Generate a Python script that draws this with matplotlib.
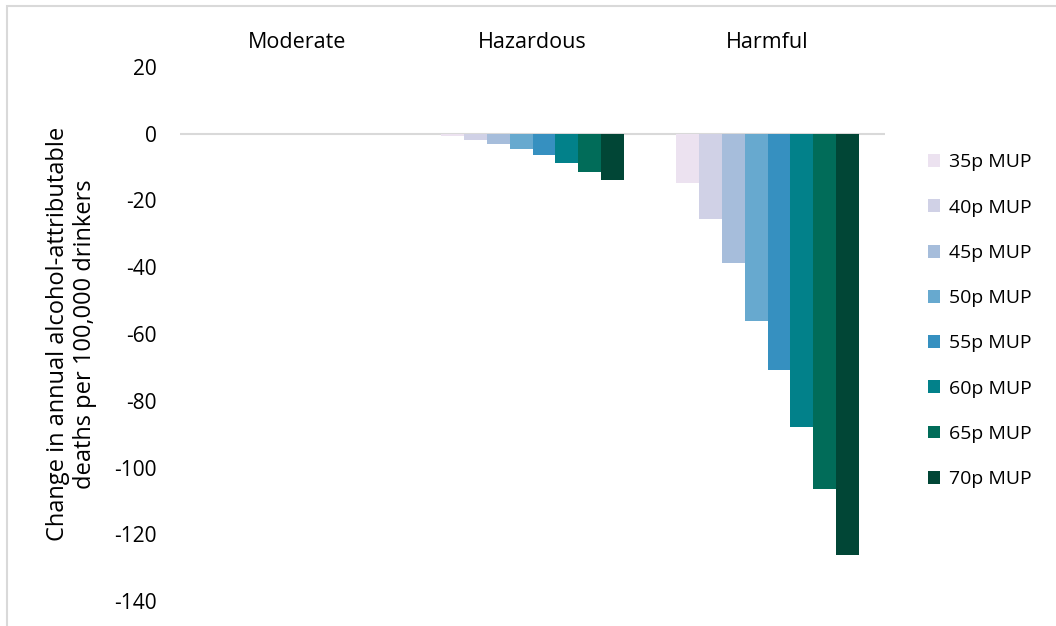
import numpy as np
import matplotlib
matplotlib.use("Agg")
import matplotlib.pyplot as plt
from matplotlib.patches import Rectangle

plt.rcParams["font.family"] = ["Open Sans", "DejaVu Sans"]
plt.rcParams["axes.unicode_minus"] = False

groups = ["Moderate", "Hazardous", "Harmful"]
series = ["35p MUP", "40p MUP", "45p MUP", "50p MUP",
          "55p MUP", "60p MUP", "65p MUP", "70p MUP"]
colors = ["#ece2f0", "#d0d1e6", "#a6bddb", "#67a9cf",
          "#3690c0", "#02818a", "#016c59", "#014636"]
# change in deaths per 100,000 drinkers, one row per MUP level
moderate = [0.0, 0.0, 0.0, -0.1, -0.1, -0.15, -0.2, -0.2]
hazardous = [-0.8, -2.0, -3.1, -4.6, -6.5, -8.8, -11.4, -14.0]
harmful = [-14.7, -25.4, -38.8, -56.1, -70.7, -87.8, -106.3, -126.2]
values = np.array([moderate, hazardous, harmful]).T

W, H = 1056, 626
fig = plt.figure(figsize=(W / 100, H / 100), dpi=100)
ax = fig.add_axes([180 / W, 1 - 601 / H, 705 / W, 534 / H])

n = len(series)
bw = 0.78 / n
x = np.arange(len(groups))
for i in range(n):
    ax.bar(x - 0.39 + bw * (i + 0.5), values[i], width=bw, color=colors[i],
           label=series[i], zorder=3)

ax.axhline(0, color="#d9d9d9", lw=1.5, zorder=2)
ax.set_xlim(-0.5, 2.5)
ax.set_ylim(-140, 20)
ax.set_yticks(np.arange(-140, 21, 20))
ax.tick_params(axis="y", length=0, labelsize=15, pad=17)
ax.set_xticks([])
for s in ax.spines.values():
    s.set_visible(False)

for xi, g in zip(x, groups):
    ax.text(xi, 1.045, g, transform=ax.get_xaxis_transform(), ha="center",
            va="center", fontsize=15.5)

ax.set_ylabel("Change in annual alcohol-attributable\ndeaths per 100,000 drinkers",
              fontsize=17, labelpad=12, linespacing=1.15)

ax.legend(loc="upper left", bbox_to_anchor=(910 / W, 1 - 136 / H),
          bbox_transform=fig.transFigure, frameon=False, fontsize=14,
          handlelength=0.65, handleheight=0.65, handletextpad=0.45,
          labelspacing=1.4)

fig.patches.append(Rectangle((7 / W, -0.1), 1.2, 1 - 6 / H + 0.1,
                             transform=fig.transFigure, fill=False,
                             edgecolor="#d9d9d9", lw=1.5))

fig.savefig("out.png", dpi=100)
